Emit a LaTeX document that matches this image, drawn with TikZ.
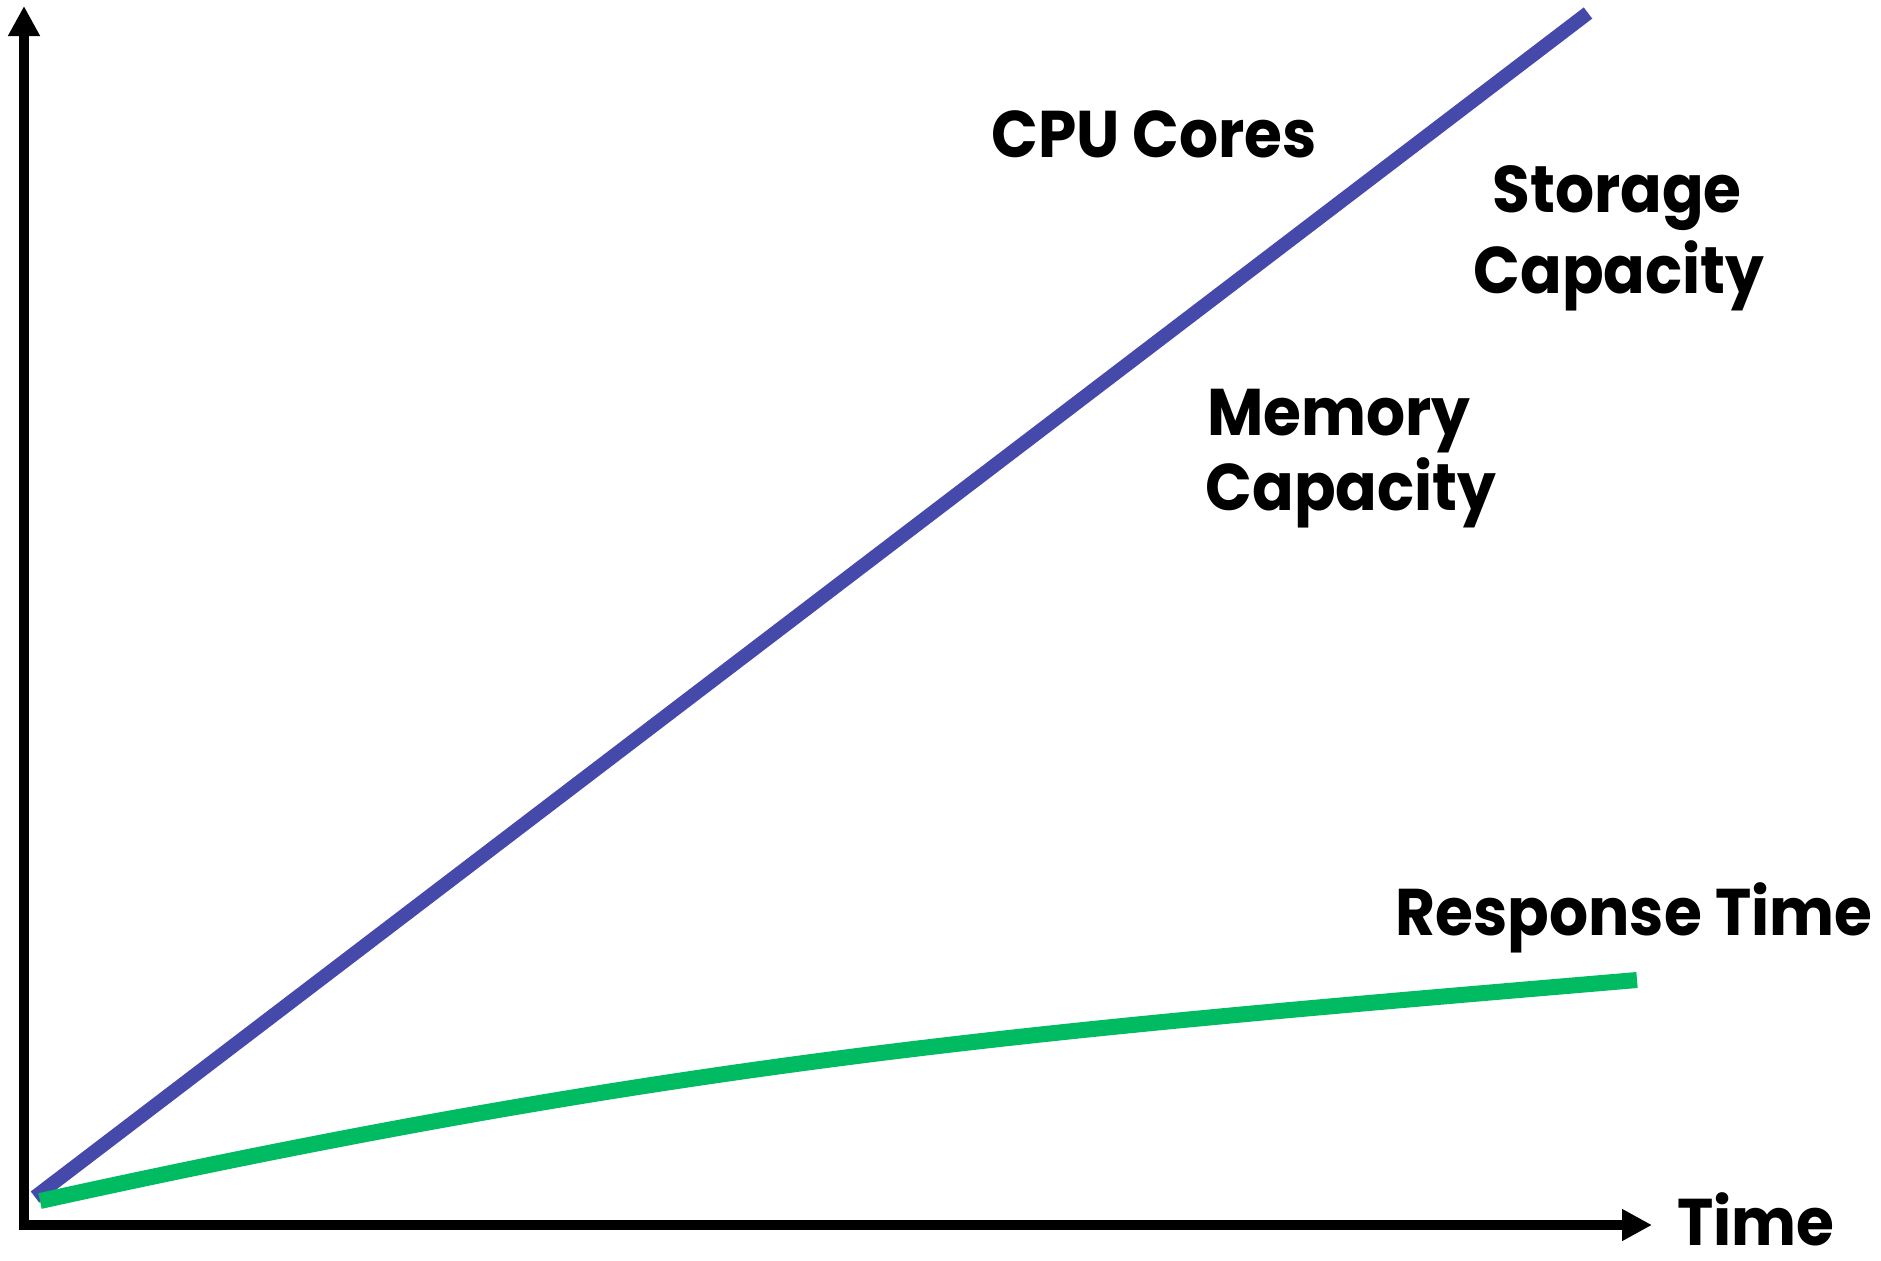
\documentclass[tikz,border=0pt]{standalone}
\usepackage{fontspec}
\setmainfont{Poppins}[FakeStretch=0.93]
\usetikzlibrary{arrows.meta}
\definecolor{blueline}{RGB}{69,74,170}
\definecolor{greenline}{RGB}{0,187,98}
\begin{document}
\begin{tikzpicture}[x=0.5pt,y=-0.5pt,
  lbl/.style={font=\fontsize{33}{40}\selectfont\bfseries, anchor=base, inner sep=0pt},
  axisline/.style={line width=5pt, line join=miter, {Triangle[length=15pt,width=15pt]}-{Triangle[length=15pt,width=15pt]}},
  bluecurve/.style={draw=blueline, line width=7pt},
  greencurve/.style={draw=greenline, line width=8pt}]
\useasboundingbox[fill=white] (0,0) rectangle (1881,1260);
\coordinate (ytip) at (24,6);
\coordinate (xtip) at (1652,1225);
\coordinate (b0) at (35,1197);
\coordinate (b1) at (1588,13);
\coordinate (g0) at (40,1201);
\coordinate (g1) at (1637,980);
% axes
\draw[axisline] (ytip) |- (xtip);
% curves
\draw[bluecurve] (b0) -- (b1);
\draw[greencurve] (g0) .. controls (690,1058) and (1037,1031) .. (g1);
% labels
\node[lbl] (cpu) at (1154,157) {CPU Cores};
\node[lbl] (stor1) at (1617,212) {Storage};
\node[lbl] (stor2) at (1619,293) {Capacity};
\node[lbl] (mem1) at (1339,435) {Memory};
\node[lbl] (mem2) at (1351,510) {Capacity};
\node[lbl] (resp) at (1634,935) {Response Time};
\node[lbl, text depth=0pt] (time) at (1756,1245) {Time};
\end{tikzpicture}
\end{document}
